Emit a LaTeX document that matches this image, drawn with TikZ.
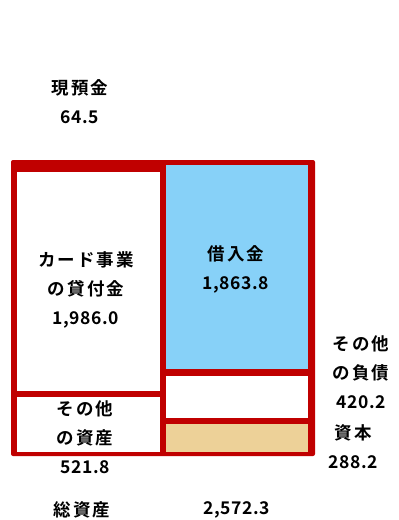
\documentclass[tikz,border=0pt]{standalone}
\usepackage{fontspec}
\newfontfamily\cjk{Noto Sans CJK JP}[UprightFont={* Bold},LetterSpace=12]
\newfontfamily\numf{Noto Sans CJK JP}[UprightFont={* Bold},LetterSpace=3]
\definecolor{frame}{HTML}{C00000}
\definecolor{skyb}{HTML}{87D1F8}
\definecolor{tan}{HTML}{EDD198}
\begin{document}
\begin{tikzpicture}[x=1pt,y=-1pt,
  lbl/.style={font=\cjk\fontsize{17.5}{29}\selectfont,align=center,inner sep=0pt,anchor=center}]
\useasboundingbox (0,0) rectangle (399,520);
% outer red frame
\fill[frame,rounded corners=2] (11,160) rectangle (315,456);
\fill[white] (17,172) rectangle (160,391);
\fill[white] (17,397) rectangle (160,452);
\fill[skyb] (166,165) rectangle (308,369);
\fill[white] (166,376) rectangle (308,418);
\fill[tan] (166,424) rectangle (308,452);
% labels
\node[lbl] (cash) at (80,102) {現預金\\{\numf 64.5}};
\node[lbl] (card) at (86,290) {カード事業\\の貸付金\\{\numf 1,986.0}};
\node[lbl] (borrow) at (236,269) {借入金\\{\numf 1,863.8}};
\node[lbl] (othl) at (361,372) {その他\\の負債\\{\numf 420.2}};
\node[lbl] (cap) at (353,447) {資本\\{\numf 288.2}};
\node[lbl] (otha) at (85,437) {その他\\の資産\\{\numf 521.8}};
\node[lbl] (tot) at (82,510) {総資産};
\node[lbl] (totv) at (237,510) {\numf 2,572.3};
\end{tikzpicture}
\end{document}
